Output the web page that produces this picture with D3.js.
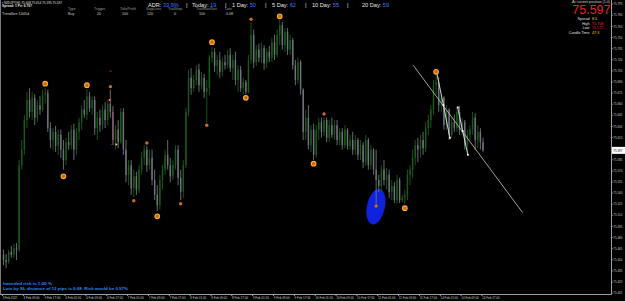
<!DOCTYPE html>
<html><head><meta charset="utf-8">
<script src="https://cdn.jsdelivr.net/npm/d3@7"></script>
<style>html,body{margin:0;padding:0;background:#000;overflow:hidden}svg{display:block}</style>
</head><body><svg id="c" width="625" height="301"></svg>
<script>
// ---- DATA (NZDJPY H1) ----
const open = [
75.456,75.449,75.446,75.460,75.456,75.465,75.463,75.577,75.598,75.638,
75.665,75.649,75.668,75.641,75.658,75.652,75.672,75.674,75.627,75.611,
75.622,75.603,75.618,75.598,75.584,75.608,75.604,75.625,75.598,75.622,
75.635,75.652,75.645,75.670,75.654,75.665,75.627,75.641,75.631,75.652,
75.638,75.660,75.649,75.611,75.625,75.608,75.649,75.598,75.564,75.577,
75.546,75.562,75.544,75.571,75.587,75.598,75.577,75.587,75.557,75.537,
75.523,75.557,75.571,75.591,75.577,75.562,75.577,75.598,75.560,75.541,
75.577,75.649,75.695,75.681,75.692,75.706,75.685,75.695,75.676,75.681,
75.722,75.730,75.711,75.719,75.703,75.716,75.712,75.726,75.708,75.719,
75.692,75.706,75.681,75.689,75.676,75.719,75.753,75.716,75.733,75.722,
75.735,75.714,75.730,75.722,75.743,75.726,75.753,75.766,75.739,75.757,
75.733,75.746,75.712,75.692,75.716,75.679,75.622,75.641,75.604,75.625,
75.591,75.625,75.635,75.622,75.638,75.614,75.631,75.618,75.631,75.611,
75.622,75.604,75.625,75.603,75.611,75.598,75.611,75.591,75.604,75.581,
75.611,75.577,75.598,75.571,75.557,75.549,75.571,75.557,75.564,75.541,
75.549,75.530,75.557,75.530,75.533,75.537,75.564,75.571,75.587,75.604,
75.598,75.611,75.600,75.627,75.638,75.652,75.685,75.689,75.658,75.668,
75.631,75.652,75.618,75.635,75.627,75.649,75.625,75.635,75.604,75.618,
75.625,75.641,75.611,75.622,75.608];
const high = [
75.463,75.457,75.463,75.468,75.471,75.472,75.584,75.611,75.645,75.676,
75.681,75.676,75.673,75.665,75.670,75.679,75.681,75.679,75.635,75.627,
75.630,75.625,75.625,75.611,75.614,75.622,75.631,75.633,75.627,75.641,
75.658,75.665,75.680,75.676,75.670,75.670,75.649,75.652,75.658,75.662,
75.665,75.679,75.657,75.631,75.638,75.654,75.654,75.611,75.584,75.584,
75.571,75.568,75.577,75.595,75.604,75.603,75.598,75.598,75.571,75.550,
75.564,75.577,75.598,75.611,75.587,75.584,75.604,75.604,75.571,75.584,
75.654,75.706,75.708,75.699,75.712,75.714,75.703,75.700,75.692,75.726,
75.737,75.735,75.726,75.730,75.722,75.726,75.733,75.735,75.726,75.730,
75.712,75.711,75.695,75.692,75.726,75.770,75.760,75.739,75.741,75.743,
75.739,75.735,75.738,75.749,75.753,75.760,75.773,75.770,75.762,75.762,
75.753,75.749,75.719,75.722,75.719,75.681,75.652,75.658,75.631,75.633,
75.631,75.641,75.641,75.642,75.641,75.638,75.641,75.638,75.638,75.627,
75.627,75.631,75.627,75.618,75.622,75.618,75.614,75.611,75.608,75.618,
75.614,75.604,75.600,75.598,75.564,75.577,75.584,75.573,75.571,75.557,
75.554,75.564,75.560,75.537,75.544,75.571,75.577,75.598,75.611,75.614,
75.618,75.622,75.635,75.645,75.658,75.692,75.699,75.696,75.672,75.670,
75.658,75.654,75.641,75.645,75.654,75.657,75.641,75.638,75.625,75.631,
75.649,75.647,75.631,75.627,75.614];
const low = [
75.442,75.438,75.444,75.452,75.452,75.449,75.460,75.571,75.591,75.627,
75.641,75.638,75.631,75.635,75.645,75.649,75.660,75.622,75.600,75.598,
75.595,75.591,75.587,75.571,75.577,75.598,75.598,75.584,75.591,75.611,
75.625,75.641,75.638,75.649,75.645,75.618,75.611,75.622,75.625,75.627,
75.631,75.641,75.604,75.598,75.600,75.606,75.591,75.554,75.550,75.537,
75.534,75.537,75.539,75.564,75.577,75.568,75.571,75.550,75.530,75.515,
75.517,75.544,75.564,75.571,75.554,75.557,75.571,75.550,75.530,75.533,
75.573,75.643,75.672,75.676,75.685,75.676,75.679,75.668,75.635,75.672,
75.716,75.703,75.699,75.695,75.697,75.706,75.708,75.703,75.692,75.685,
75.676,75.676,75.672,75.673,75.674,75.714,75.708,75.711,75.716,75.715,
75.706,75.708,75.716,75.716,75.719,75.722,75.739,75.733,75.730,75.726,
75.726,75.706,75.685,75.687,75.672,75.611,75.611,75.598,75.595,75.584,
75.587,75.611,75.614,75.616,75.608,75.608,75.614,75.611,75.604,75.604,
75.598,75.600,75.598,75.598,75.591,75.591,75.584,75.584,75.573,75.576,
75.571,75.571,75.564,75.525,75.541,75.541,75.550,75.544,75.533,75.530,
75.526,75.525,75.526,75.527,75.525,75.530,75.550,75.560,75.577,75.581,
75.587,75.591,75.595,75.618,75.627,75.645,75.672,75.649,75.649,75.625,
75.625,75.611,75.614,75.622,75.622,75.618,75.618,75.598,75.591,75.611,
75.618,75.598,75.600,75.598,75.595];
const close = [
75.449,75.446,75.460,75.456,75.465,75.463,75.577,75.598,75.638,75.665,
75.649,75.668,75.641,75.658,75.652,75.672,75.674,75.627,75.611,75.622,
75.603,75.618,75.598,75.584,75.608,75.604,75.625,75.598,75.622,75.635,
75.652,75.645,75.670,75.654,75.665,75.627,75.641,75.631,75.652,75.638,
75.660,75.649,75.611,75.625,75.608,75.649,75.598,75.564,75.577,75.546,
75.562,75.544,75.571,75.587,75.598,75.577,75.587,75.557,75.537,75.523,
75.557,75.571,75.591,75.577,75.562,75.577,75.598,75.560,75.541,75.577,
75.649,75.695,75.681,75.692,75.706,75.685,75.695,75.676,75.681,75.722,
75.730,75.711,75.719,75.703,75.716,75.712,75.726,75.708,75.719,75.692,
75.706,75.681,75.689,75.676,75.719,75.753,75.716,75.733,75.722,75.735,
75.714,75.730,75.722,75.743,75.726,75.753,75.766,75.739,75.757,75.733,
75.746,75.712,75.692,75.716,75.679,75.622,75.641,75.604,75.625,75.591,
75.625,75.635,75.622,75.638,75.614,75.631,75.618,75.631,75.611,75.622,
75.604,75.625,75.603,75.611,75.598,75.611,75.591,75.604,75.581,75.611,
75.577,75.598,75.571,75.557,75.549,75.571,75.557,75.564,75.541,75.549,
75.530,75.557,75.530,75.533,75.537,75.564,75.571,75.587,75.604,75.598,
75.611,75.600,75.627,75.638,75.652,75.685,75.689,75.658,75.668,75.631,
75.652,75.618,75.635,75.627,75.649,75.625,75.635,75.604,75.618,75.625,
75.641,75.611,75.622,75.608,75.597];

// 75.600 is hidden under the last-price box in the reference, so it is not listed
const priceTicks = [75.405,75.420,75.435,75.450,75.465,75.480,75.495,75.510,75.525,75.540,
  75.555,75.570,75.585,75.615,75.630,75.645,75.660,75.675,75.690,75.705,75.720,
  75.735,75.750,75.765,75.780,75.795];
const labelBars = [0,8,16,24,32,40,48,56,64,72,80,88,96,104,112,120,128,136,144,152,160,168,176,184];
const dateLabels = ["3 Feb 2022","3 Feb 09:00","3 Feb 17:00","4 Feb 01:00","4 Feb 09:00","4 Feb 17:00",
  "7 Feb 01:00","7 Feb 09:00","7 Feb 17:00","8 Feb 01:00","8 Feb 09:00","8 Feb 17:00",
  "9 Feb 01:00","9 Feb 09:00","9 Feb 17:00","10 Feb 01:00","10 Feb 09:00","10 Feb 17:00",
  "11 Feb 01:00","11 Feb 09:00","11 Feb 17:00","14 Feb 01:00","14 Feb 09:00","14 Feb 17:00"];

const bigMarkerBars = [16,23,32,59,80,93,106,119,154,166];
const bigMarkerPrices = [75.687,75.562,75.685,75.508,75.743,75.668,75.778,75.579,75.519,75.703];
const smallMarkerBars = [41,50,55,68,78,95,123,143];
const smallMarkerPrices = [75.683,75.529,75.607,75.525,75.631,75.774,75.646,75.522];

const zig1Bars = [166.2,168.8,171.3], zig1Prices = [75.703,75.658,75.614];
const zig2Bars = [174.3,176.2,178.2], zig2Prices = [75.655,75.623,75.591];
const trendBars = [157.2,199.2], trendPrices = [75.712,75.513];
const ellipseBar = 142.9, ellipsePrice = 75.521;
const lastPrice = 75.597;

// ---- CHART ----
const svg = d3.select("#c");
svg.append("rect").attr("width",625).attr("height",301).attr("fill","#000");
const x = d3.scaleLinear().domain([0,184]).range([3.5,483]);
const y = d3.scaleLinear().domain([75.405,75.795]).range([292.6,3.7]);
const BULL = "#1b5c1b", BEAR = "#6f757e";

// ellipse (behind candles)
const ex = x(ellipseBar), ey = y(ellipsePrice);
svg.append("ellipse").attr("cx",ex).attr("cy",ey).attr("rx",9).attr("ry",18)
  .attr("transform",`rotate(12 ${ex} ${ey})`).attr("fill","#0f22dc");

const bars = open.map((o,i)=>({i,o,h:high[i],l:low[i],c:close[i]}));
const cg = svg.append("g").selectAll("g").data(bars).join("g");
cg.append("line").attr("x1",d=>x(d.i)).attr("x2",d=>x(d.i))
  .attr("y1",d=>y(d.h)).attr("y2",d=>y(d.l))
  .attr("stroke",d=>d.c>=d.o?BULL:BEAR).attr("stroke-width",0.9);
cg.append("rect").attr("x",d=>x(d.i)-0.7).attr("width",1.4)
  .attr("y",d=>y(Math.max(d.o,d.c)))
  .attr("height",d=>Math.max(0.8,Math.abs(y(d.o)-y(d.c))))
  .attr("fill",d=>d.c>=d.o?BULL:BEAR);

// trend line
svg.append("line").attr("x1",x(trendBars[0])).attr("y1",y(trendPrices[0]))
  .attr("x2",x(trendBars[1])).attr("y2",y(trendPrices[1]))
  .attr("stroke","#c8c8c8").attr("stroke-width",0.8);

// zigzags
[[zig1Bars,zig1Prices],[zig2Bars,zig2Prices]].forEach(([b,p])=>{
  const pts = b.map((v,k)=>[x(v),y(p[k])]);
  svg.append("path").attr("d",d3.line()(pts)).attr("fill","none").attr("stroke","#e8e8e8").attr("stroke-width",0.9);
  svg.selectAll(null).data(pts).join("rect").attr("x",d=>d[0]-0.9).attr("y",d=>d[1]-0.9)
    .attr("width",1.8).attr("height",1.8).attr("fill","#ffffff");
});

// red annotation near bar 41-43
svg.append("line").attr("x1",x(42)).attr("x2",x(42)).attr("y1",y(75.652)).attr("y2",y(75.604))
  .attr("stroke","#c0202a").attr("stroke-width",0.8).attr("stroke-dasharray","1,1");
svg.append("line").attr("x1",x(41.1)-1.3).attr("x2",x(41.1)+1.3).attr("y1",y(75.704)).attr("y2",y(75.704))
  .attr("stroke","#c0202a").attr("stroke-width",0.8);
svg.append("rect").attr("x",x(40.7)-1).attr("y",y(75.665)-1).attr("width",2).attr("height",2).attr("fill","#ff3030");
svg.append("rect").attr("x",x(40.7)-0.4).attr("y",y(75.665)-0.4).attr("width",0.8).attr("height",0.8).attr("fill","#fff");
svg.append("rect").attr("x",x(43.3)-0.9).attr("y",y(75.605)-0.9).attr("width",1.8).attr("height",1.8).attr("fill","#f0d040");
svg.append("line").attr("x1",x(41.5)-1).attr("x2",x(41.5)+1).attr("y1",y(75.605)).attr("y2",y(75.605))
  .attr("stroke","#2030c0").attr("stroke-width",0.8);

// markers
svg.selectAll(null).data(smallMarkerBars).join("circle")
  .attr("cx",d=>x(d)).attr("cy",(d,k)=>y(smallMarkerPrices[k])).attr("r",1.7).attr("fill","#cc6a1e");
svg.selectAll(null).data(bigMarkerBars).join("circle")
  .attr("cx",d=>x(d)).attr("cy",(d,k)=>y(bigMarkerPrices[k])).attr("r",2.3)
  .attr("fill","#c8681a").attr("stroke","#ffae2a").attr("stroke-width",1.1);

// axes frame
svg.append("line").attr("x1",0.5).attr("x2",0.5).attr("y1",0).attr("y2",294.5).attr("stroke","#7a7a7a");
svg.append("line").attr("x1",611.5).attr("x2",611.5).attr("y1",0).attr("y2",294.5).attr("stroke","#a0a0a0");
svg.append("line").attr("x1",0).attr("x2",611.5).attr("y1",294.5).attr("y2",294.5).attr("stroke","#a0a0a0");

const ra = svg.append("g").attr("transform","translate(611.5,0)")
  .call(d3.axisRight(y).tickValues(priceTicks).tickSize(1.2).tickPadding(0.6).tickFormat(d3.format(".3f")));
ra.select(".domain").remove();
ra.attr("font-size",3.5).attr("font-family","Liberation Sans");
ra.selectAll("line").attr("stroke","#a0a0a0");
ra.selectAll("text").attr("fill","#c8c8c8").attr("textLength",9).attr("lengthAdjust","spacingAndGlyphs");

const ba = svg.append("g").attr("transform","translate(0,294.5)")
  .call(d3.axisBottom(x).tickValues(labelBars).tickSize(1.5).tickFormat((d,k)=>dateLabels[k]));
ba.select(".domain").remove();
ba.attr("font-size",3.4).attr("font-family","Liberation Sans");
ba.selectAll("line").attr("stroke","#a0a0a0").attr("transform","translate(-1.5,0)");
ba.selectAll("text").attr("fill","#c8c8c8").attr("text-anchor","start").attr("x",-1.3).attr("y",1.6)
  .attr("textLength",(d,k)=>dateLabels[k].length*1.45).attr("lengthAdjust","spacingAndGlyphs");

// last price box
svg.append("rect").attr("x",612).attr("y",y(lastPrice)-3.5).attr("width",13).attr("height",7).attr("fill","#ffffff");
svg.append("text").attr("x",613.3).attr("y",y(lastPrice)+1.3).text(d3.format(".3f")(lastPrice))
  .attr("font-size",3.5).attr("font-family","Liberation Sans").attr("fill","#000")
  .attr("textLength",9).attr("lengthAdjust","spacingAndGlyphs");

// ---- TEXT OVERLAYS ----
function txt(xp, yp, s, o={}){
  const t = svg.append("text").attr("x",xp).attr("y",yp).text(s)
    .attr("font-family",o.ff||"Liberation Sans").attr("font-size",o.fs||3.8)
    .attr("fill",o.fill||"#d8d8d8").attr("text-anchor",o.anchor||"start");
  if(o.fw) t.attr("font-weight",o.fw);
  if(o.tl) t.attr("textLength",o.tl).attr("lengthAdjust","spacingAndGlyphs");
  return t;
}
txt(2,3.9,"\u25aa NZDJPY,H1  75.608 75.614 75.595 75.597",{tl:60,fs:3.6,fill:"#e0e0e0"});
txt(2,7.4,"Spread: 1  Pv: 6.797",{tl:30,fs:3.6,fw:"bold",fill:"#e0e0e0"});
txt(2,14.6,"Trendline 1005d",{tl:27,fill:"#cfcfcf"});
const headers = ["Type","Trigger","TakeProfit","StopLoss","TrailStop","TrailStartDist","Lots"];
const headerX = [68,94,120,146,168,196,225];
const values = ["Buy","20","100","120","0","100","0.08"];
const valueX = [68,97,122,147,174,199,226];
headers.forEach((h,k)=>txt(headerX[k],10.0,h,{fill:"#9a9a9a",fs:3.6}));
values.forEach((v,k)=>txt(valueX[k],14.8,v,{fill:"#cfcfcf",fs:3.6}));

// ADR row
const adrItems = [["ADR: ","33.9%",148],["Today: ","19",192],["1 Day: ","50",232],["5 Day: ","62",272],["10 Day: ","55",312],["20 Day: ","59",362]];
const pipeX = [186,225,265,305,347];
adrItems.forEach(([a,b,xp])=>{
  const t = svg.append("text").attr("x",xp).attr("y",7.0).attr("font-family","Liberation Sans").attr("font-size",5.6);
  t.append("tspan").attr("fill","#e8e8e8").text(a);
  t.append("tspan").attr("fill","#3a78ff").text(b);
});
pipeX.forEach(xp=>txt(xp,7.0,"|",{fs:5.6,fill:"#e8e8e8"}));

// right info panel
txt(610,3.2,"At current position (1.0)",{anchor:"end",fs:3.0,fill:"#d0d0d0",tl:38});
txt(610.5,14.3,"75.597",{anchor:"end",fs:12.5,fill:"#e3232a"});
const infoLabels = ["Spread","High","Low","Candle Time"];
const infoValues = ["8.5","75.708","75.575","47:3"];
const infoColors = ["#f0d020","#e3232a","#e3232a","#f0d020"];
const infoY = [20.3,24.8,29.3,33.8];
infoLabels.forEach((l,k)=>{
  txt(589.5,infoY[k],l,{anchor:"end",fs:3.7,fill:"#e0e0e0"});
  txt(592,infoY[k],infoValues[k],{fs:3.7,fill:infoColors[k]});
});

// bottom-left risk text
txt(3,284.6,"Intended risk is 1.00 %",{fs:4.4,fw:"bold",fill:"#2f86ff",tl:49});
txt(3,289.6,"Lots by SL distance of 12 pips is 0.08. Risk would be 0.97%",{fs:4.4,fw:"bold",fill:"#2f86ff",tl:125});
</script>
</body></html>
